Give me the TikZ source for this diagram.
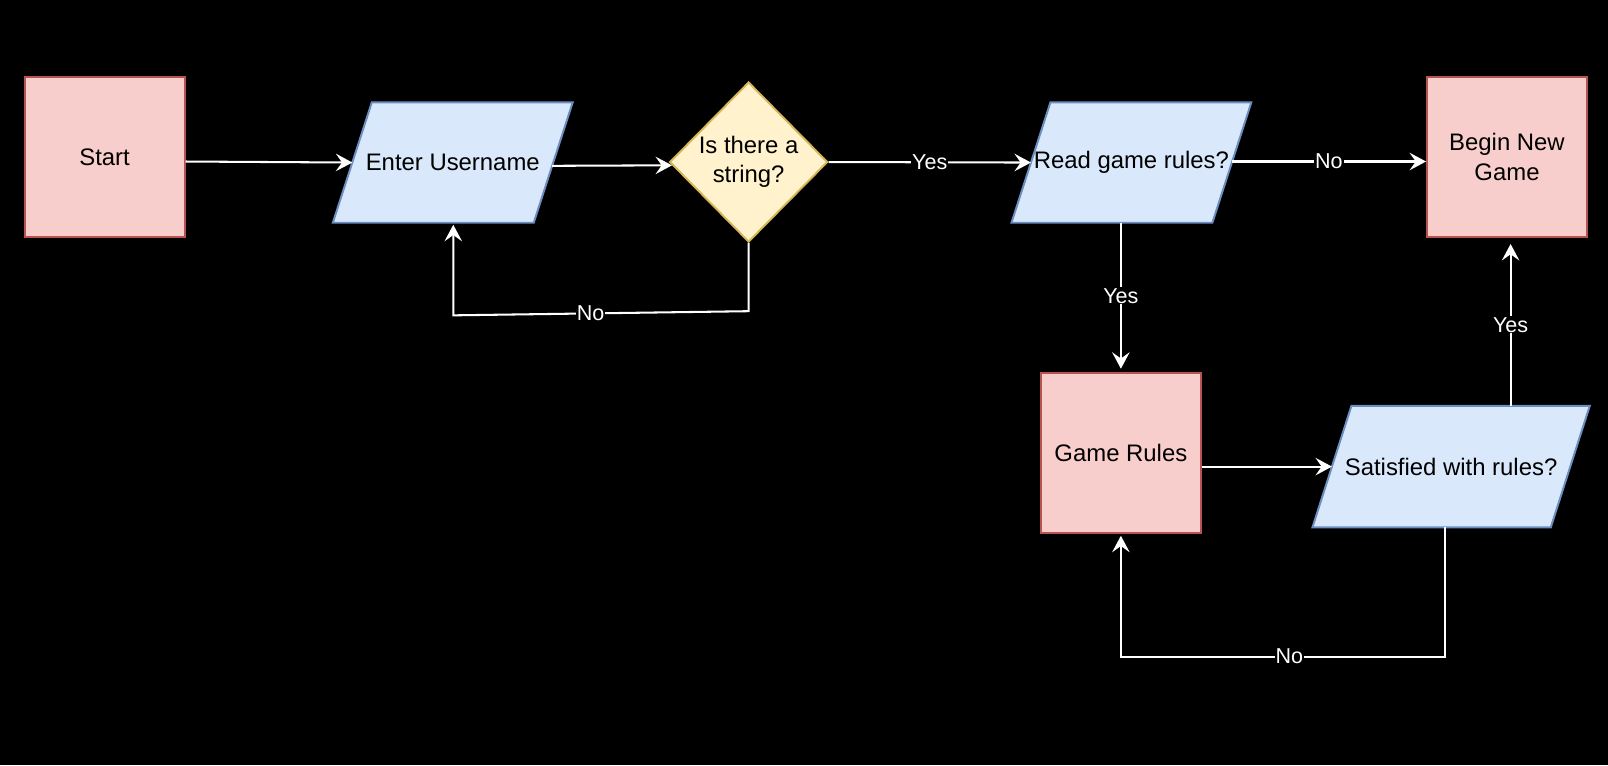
\documentclass[tikz,border=0pt]{standalone}
\usepackage{fontspec}
\setmainfont{Liberation Sans}
\usetikzlibrary{shapes.geometric,arrows.meta,calc,backgrounds}
\definecolor{pinkF}{HTML}{F8CECC}
\definecolor{pinkD}{HTML}{B85450}
\definecolor{blueF}{HTML}{DAE8FC}
\definecolor{blueD}{HTML}{6C8EBF}
\definecolor{yelF}{HTML}{FFF2CC}
\definecolor{yelD}{HTML}{D6B656}
\newcommand{\myparapath}[1]{\path[para] ($(#1.north west)+(19,0)$) -- ($(#1.north east)+(19,0)$) -- ($(#1.south east)+(-19,0)$) -- ($(#1.south west)+(-19,0)$) -- cycle;}
\begin{document}
\begin{tikzpicture}[x=1pt,y=-1pt,
  box/.style={draw=pinkD,fill=pinkF,line width=1.9pt,minimum width=156pt,minimum height=156pt,inner sep=0pt,font=\fontsize{23.3}{28.5}\selectfont,align=center},
  paratext/.style={minimum height=117pt,inner sep=0pt,font=\fontsize{23.3}{28.5}\selectfont,align=center},
  para/.style={draw=blueD,fill=blueF,line width=1.9pt},
  dec/.style={diamond,draw=yelD,fill=yelF,line width=1.9pt,minimum width=154pt,minimum height=156pt,inner sep=0pt,font=\fontsize{23.3}{28.5}\selectfont,align=center},
  arr/.style={draw=white,line width=2pt,-{Stealth[length=16pt,width=17pt,inset=6pt]}},
  lbl/.style={fill=black,text=white,inner sep=1pt,font=\fontsize{21}{24}\selectfont}]
\useasboundingbox (0,0) rectangle (1568,746);

% nodes
\node[box] (start) at (102,153) {Start};
\node[paratext,minimum width=195.5pt] (eu) at (441.5,158.5) {Enter Username};
\node[dec] (dia) at (730,158) {Is there a\\string?};
\node[paratext,minimum width=195.5pt] (rgr) at (1103.25,158.5) {Read game rules?};
\node[box] (bng) at (1469.5,153) {Begin New\\Game};
\node[box] (gr) at (1093,441.5) {Game Rules};
\node[paratext,minimum width=232pt,minimum height=118pt] (sat) at (1415,455) {Satisfied with rules?};

\begin{scope}[on background layer]
  \fill[black] (0,0) rectangle (1568,746);
  \myparapath{eu}
  \myparapath{rgr}
  \myparapath{sat}
\end{scope}

% connectors
\draw[arr] ($(start.east)+(0,4.5)$) -- (eu.west);
\draw[arr] ($(eu.east)+(-1,3.2)$) -- ($(dia.west)+(3.2,3.2)$);
\draw[arr] (dia.east) -- node[lbl]{Yes} (rgr.west);
\draw[arr] (rgr.east |- 0,157.5) -- node[lbl]{No} ($(bng.west)+(0,4.5)$);
\draw[arr] (gr.north |- rgr.south) -- node[lbl]{Yes} ($(gr.north)+(0,-3)$);
\draw[arr] (gr.east |- sat.west) -- (sat.west);
\draw[arr] ($(sat.north)+(58,0)$) -- node[lbl]{Yes} ($(bng.south)+(3.5,6)$);
\draw[arr] ($(sat.south)+(-6,0)$) -- ++(0,126) coordinate (n1)
   -- node[lbl,pos=0.48]{No} (n1 -| gr.south) -- ($(gr.south)+(0,2)$);
\draw[arr] (dia.south) -- ++(0,66.5)
   -- node[lbl,pos=0.535]{No} ($(eu.south)+(0.5,90.3)$) -- ($(eu.south)+(0.5,2)$);
\end{tikzpicture}
\end{document}
